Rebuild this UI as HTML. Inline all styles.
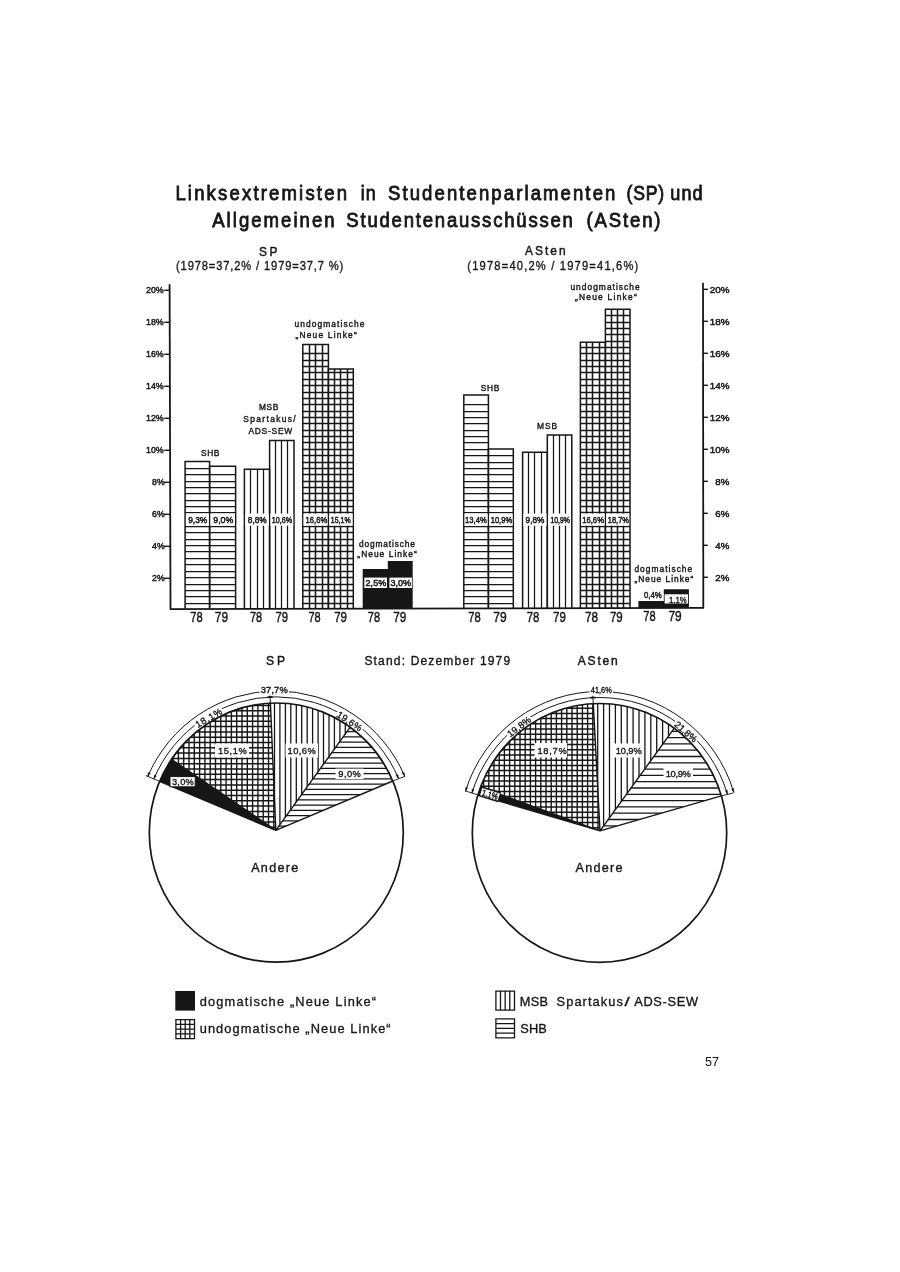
<!DOCTYPE html>
<html lang="de">
<head>
<meta charset="utf-8">
<title>Linksextremisten in Studentenparlamenten (SP) und Allgemeinen Studentenausschüssen (ASten)</title>
<style>
html,body{margin:0;padding:0;background:#fff;}
body{width:900px;height:1272px;overflow:hidden;}
svg{display:block;}
text{font-family:"Liberation Sans","DejaVu Sans",sans-serif;fill:#161616;}
</style>
</head>
<body>
<svg width="900" height="1272" viewBox="0 0 900 1272">
<defs>
<clipPath id="spw0"><path d="M275.8 830.3L159.6 781.4A127.0 129.6 0 0 1 171.5 759.3Z"/></clipPath>
<clipPath id="spw1"><path d="M275.8 830.3L171.5 759.3A127.0 129.6 0 0 1 270.4 703.1Z"/></clipPath>
<clipPath id="spw2"><path d="M275.8 830.3L270.4 703.1A127.0 129.6 0 0 1 350.2 727.2Z"/></clipPath>
<clipPath id="spw3"><path d="M275.8 830.3L350.2 727.2A127.0 129.6 0 0 1 392.8 781.0Z"/></clipPath>
<clipPath id="asw0"><path d="M600.0 830.8L477.9 794.9A127.2 129.4 0 0 1 480.5 787.2Z"/></clipPath>
<clipPath id="asw1"><path d="M600.0 830.8L480.5 787.2A127.2 129.4 0 0 1 593.3 703.7Z"/></clipPath>
<clipPath id="asw2"><path d="M600.0 830.8L593.3 703.7A127.2 129.4 0 0 1 674.3 728.2Z"/></clipPath>
<clipPath id="asw3"><path d="M600.0 830.8L674.3 728.2A127.2 129.4 0 0 1 721.4 795.9Z"/></clipPath>
</defs>
<rect width="900" height="1272" fill="#fff"/>
<g class="title">
<text transform="translate(175.4 200.2) scale(0.9 1)" font-size="20.6" textLength="190.6" lengthAdjust="spacing" stroke="#161616" stroke-width="0.85">Linksextremisten</text>
<text transform="translate(360.8 200.2) scale(0.872 1)" font-size="20.6" textLength="17.2" lengthAdjust="spacing" stroke="#161616" stroke-width="0.85">in</text>
<text transform="translate(388.0 200.2) scale(0.9 1)" font-size="20.6" textLength="252.6" lengthAdjust="spacing" stroke="#161616" stroke-width="0.85">Studentenparlamenten</text>
<text transform="translate(626.5 200.2) scale(0.855 1)" font-size="20.6" textLength="44.1" lengthAdjust="spacing" stroke="#161616" stroke-width="0.85">(SP)</text>
<text transform="translate(670.3 200.2) scale(0.878 1)" font-size="20.6" textLength="36.8" lengthAdjust="spacing" stroke="#161616" stroke-width="0.85">und</text>
<text transform="translate(212.2 227.1) scale(0.9 1)" font-size="20.6" textLength="136.0" lengthAdjust="spacing" stroke="#161616" stroke-width="0.85">Allgemeinen</text>
<text transform="translate(346.3 227.1) scale(0.9 1)" font-size="20.6" textLength="251.8" lengthAdjust="spacing" stroke="#161616" stroke-width="0.85">Studentenausschüssen</text>
<text transform="translate(586.4 227.1) scale(0.9 1)" font-size="20.6" textLength="82.4" lengthAdjust="spacing" stroke="#161616" stroke-width="0.85">(ASten)</text>
</g>
<text transform="translate(258.9 255.6) scale(0.9 1)" font-size="13.3" textLength="20.7" lengthAdjust="spacing" stroke="#161616" stroke-width="0.45">SP</text>
<text transform="translate(176.0 270.0) scale(0.86 1)" font-size="13" textLength="194.5" lengthAdjust="spacing" stroke="#161616" stroke-width="0.35">(1978=37,2% / 1979=37,7 %)</text>
<text transform="translate(525.0 254.8) scale(0.9 1)" font-size="13.3" textLength="45.2" lengthAdjust="spacing" stroke="#161616" stroke-width="0.45">ASten</text>
<text transform="translate(467.3 270.0) scale(0.86 1)" font-size="13" textLength="198.8" lengthAdjust="spacing" stroke="#161616" stroke-width="0.35">(1978=40,2% / 1979=41,6%)</text>
<g class="bars" stroke="#161616" fill="none">
<path d="M169.6 284.2L170.5 609.1" stroke-width="1.8"/>
<path d="M703.0 282.8L703.3 607.9" stroke-width="1.8"/>
<line x1="169.8" y1="609.1" x2="704.0" y2="607.9" stroke-width="1.7"/>
<line x1="164.3" y1="578.3" x2="170.0" y2="578.3" stroke-width="1.4"/>
<line x1="703.0" y1="577.3" x2="707.9" y2="577.3" stroke-width="1.4"/>
<line x1="164.3" y1="546.3" x2="170.0" y2="546.3" stroke-width="1.4"/>
<line x1="703.0" y1="545.3" x2="707.9" y2="545.3" stroke-width="1.4"/>
<line x1="164.3" y1="514.3" x2="170.0" y2="514.3" stroke-width="1.4"/>
<line x1="703.0" y1="513.3" x2="707.9" y2="513.3" stroke-width="1.4"/>
<line x1="164.3" y1="482.3" x2="170.0" y2="482.3" stroke-width="1.4"/>
<line x1="703.0" y1="481.3" x2="707.9" y2="481.3" stroke-width="1.4"/>
<line x1="164.3" y1="450.3" x2="170.0" y2="450.3" stroke-width="1.4"/>
<line x1="703.0" y1="449.3" x2="707.9" y2="449.3" stroke-width="1.4"/>
<line x1="164.3" y1="418.3" x2="170.0" y2="418.3" stroke-width="1.4"/>
<line x1="703.0" y1="417.3" x2="707.9" y2="417.3" stroke-width="1.4"/>
<line x1="164.3" y1="386.3" x2="170.0" y2="386.3" stroke-width="1.4"/>
<line x1="703.0" y1="385.3" x2="707.9" y2="385.3" stroke-width="1.4"/>
<line x1="164.3" y1="354.3" x2="170.0" y2="354.3" stroke-width="1.4"/>
<line x1="703.0" y1="353.3" x2="707.9" y2="353.3" stroke-width="1.4"/>
<line x1="164.3" y1="322.3" x2="170.0" y2="322.3" stroke-width="1.4"/>
<line x1="703.0" y1="321.3" x2="707.9" y2="321.3" stroke-width="1.4"/>
<line x1="164.3" y1="290.3" x2="170.0" y2="290.3" stroke-width="1.4"/>
<line x1="703.0" y1="289.3" x2="707.9" y2="289.3" stroke-width="1.4"/>
</g>
<text x="152.0" y="581.3" font-size="8.8" textLength="12.7" lengthAdjust="spacingAndGlyphs" stroke="#161616" stroke-width="0.45">2%</text>
<text x="715.3" y="581.2" font-size="8.8" textLength="14.0" lengthAdjust="spacingAndGlyphs" stroke="#161616" stroke-width="0.45">2%</text>
<text x="152.0" y="549.3" font-size="8.8" textLength="12.7" lengthAdjust="spacingAndGlyphs" stroke="#161616" stroke-width="0.45">4%</text>
<text x="715.3" y="549.2" font-size="8.8" textLength="14.0" lengthAdjust="spacingAndGlyphs" stroke="#161616" stroke-width="0.45">4%</text>
<text x="152.0" y="517.3" font-size="8.8" textLength="12.7" lengthAdjust="spacingAndGlyphs" stroke="#161616" stroke-width="0.45">6%</text>
<text x="715.3" y="517.2" font-size="8.8" textLength="14.0" lengthAdjust="spacingAndGlyphs" stroke="#161616" stroke-width="0.45">6%</text>
<text x="152.0" y="485.3" font-size="8.8" textLength="12.7" lengthAdjust="spacingAndGlyphs" stroke="#161616" stroke-width="0.45">8%</text>
<text x="715.3" y="485.2" font-size="8.8" textLength="14.0" lengthAdjust="spacingAndGlyphs" stroke="#161616" stroke-width="0.45">8%</text>
<text x="146.0" y="453.3" font-size="8.8" textLength="17.7" lengthAdjust="spacingAndGlyphs" stroke="#161616" stroke-width="0.45">10%</text>
<text x="709.7" y="452.6" font-size="8.8" textLength="19.8" lengthAdjust="spacingAndGlyphs" stroke="#161616" stroke-width="0.45">10%</text>
<text x="146.0" y="421.3" font-size="8.8" textLength="17.7" lengthAdjust="spacingAndGlyphs" stroke="#161616" stroke-width="0.45">12%</text>
<text x="709.7" y="420.6" font-size="8.8" textLength="19.8" lengthAdjust="spacingAndGlyphs" stroke="#161616" stroke-width="0.45">12%</text>
<text x="146.0" y="389.3" font-size="8.8" textLength="17.7" lengthAdjust="spacingAndGlyphs" stroke="#161616" stroke-width="0.45">14%</text>
<text x="709.7" y="388.6" font-size="8.8" textLength="19.8" lengthAdjust="spacingAndGlyphs" stroke="#161616" stroke-width="0.45">14%</text>
<text x="146.0" y="357.3" font-size="8.8" textLength="17.7" lengthAdjust="spacingAndGlyphs" stroke="#161616" stroke-width="0.45">16%</text>
<text x="709.7" y="356.6" font-size="8.8" textLength="19.8" lengthAdjust="spacingAndGlyphs" stroke="#161616" stroke-width="0.45">16%</text>
<text x="146.0" y="325.3" font-size="8.8" textLength="17.7" lengthAdjust="spacingAndGlyphs" stroke="#161616" stroke-width="0.45">18%</text>
<text x="709.7" y="324.6" font-size="8.8" textLength="19.8" lengthAdjust="spacingAndGlyphs" stroke="#161616" stroke-width="0.45">18%</text>
<text x="146.0" y="293.3" font-size="8.8" textLength="17.7" lengthAdjust="spacingAndGlyphs" stroke="#161616" stroke-width="0.45">20%</text>
<text x="709.7" y="292.6" font-size="8.8" textLength="19.8" lengthAdjust="spacingAndGlyphs" stroke="#161616" stroke-width="0.45">20%</text>
<g class="barfill" stroke="#161616" fill="none" stroke-width="1.25">
<path d="M185.1 603.5H209.6M185.1 596.5H209.6M185.1 590.5H209.6M185.1 584.5H209.6M185.1 577.5H209.6M185.1 571.5H209.6M185.1 564.5H209.6M185.1 558.5H209.6M185.1 551.5H209.6M185.1 545.5H209.6M185.1 539.5H209.6M185.1 532.5H209.6M185.1 526.5H209.6M185.1 512.5H209.6M185.1 506.5H209.6M185.1 500.5H209.6M185.1 493.5H209.6M185.1 487.5H209.6M185.1 481.5H209.6M185.1 474.5H209.6M185.1 468.5H209.6"/>
<path d="M209.6 603.5H235.6M209.6 596.5H235.6M209.6 590.5H235.6M209.6 584.5H235.6M209.6 577.5H235.6M209.6 571.5H235.6M209.6 564.5H235.6M209.6 558.5H235.6M209.6 551.5H235.6M209.6 545.5H235.6M209.6 539.5H235.6M209.6 532.5H235.6M209.6 526.5H235.6M209.6 512.5H235.6M209.6 506.5H235.6M209.6 500.5H235.6M209.6 493.5H235.6M209.6 487.5H235.6M209.6 481.5H235.6M209.6 474.5H235.6"/>
<path d="M250.5 469.3V608.6M257.5 469.3V608.6M263.5 469.3V608.6"/>
<path d="M275.5 440.5V608.6M281.5 440.5V608.6M287.5 440.5V608.6"/>
<path d="M302.8 603.5H328.4M302.8 596.5H328.4M302.8 590.5H328.4M302.8 584.5H328.4M302.8 577.5H328.4M302.8 571.5H328.4M302.8 564.5H328.4M302.8 558.5H328.4M302.8 551.5H328.4M302.8 545.5H328.4M302.8 539.5H328.4M302.8 532.5H328.4M302.8 526.5H328.4M302.8 512.5H328.4M302.8 506.5H328.4M302.8 500.5H328.4M302.8 493.5H328.4M302.8 487.5H328.4M302.8 481.5H328.4M302.8 474.5H328.4M302.8 468.5H328.4M302.8 462.5H328.4M302.8 455.5H328.4M302.8 449.5H328.4M302.8 442.5H328.4M302.8 436.5H328.4M302.8 430.5H328.4M302.8 423.5H328.4M302.8 417.5H328.4M302.8 411.5H328.4M302.8 404.5H328.4M302.8 398.5H328.4M302.8 392.5H328.4M302.8 385.5H328.4M302.8 379.5H328.4M302.8 372.5H328.4M302.8 366.5H328.4M302.8 360.5H328.4M302.8 353.5H328.4M309.5 344.4V608.6M315.5 344.4V608.6M322.5 344.4V608.6" stroke-width="1.55"/>
<path d="M328.4 603.5H353.3M328.4 596.5H353.3M328.4 590.5H353.3M328.4 584.5H353.3M328.4 577.5H353.3M328.4 571.5H353.3M328.4 564.5H353.3M328.4 558.5H353.3M328.4 551.5H353.3M328.4 545.5H353.3M328.4 539.5H353.3M328.4 532.5H353.3M328.4 526.5H353.3M328.4 512.5H353.3M328.4 506.5H353.3M328.4 500.5H353.3M328.4 493.5H353.3M328.4 487.5H353.3M328.4 481.5H353.3M328.4 474.5H353.3M328.4 468.5H353.3M328.4 462.5H353.3M328.4 455.5H353.3M328.4 449.5H353.3M328.4 442.5H353.3M328.4 436.5H353.3M328.4 430.5H353.3M328.4 423.5H353.3M328.4 417.5H353.3M328.4 411.5H353.3M328.4 404.5H353.3M328.4 398.5H353.3M328.4 392.5H353.3M328.4 385.5H353.3M328.4 379.5H353.3M328.4 372.5H353.3M334.5 368.9V608.6M340.5 368.9V608.6M347.5 368.9V608.6" stroke-width="1.55"/>
<path d="M362.7 608.7V568.9H387.8V561.1H412.7V608.6Z" fill="#161616" stroke="none"/>
<path d="M463.8 603.5H488.4M463.8 596.5H488.4M463.8 590.5H488.4M463.8 584.5H488.4M463.8 577.5H488.4M463.8 571.5H488.4M463.8 564.5H488.4M463.8 558.5H488.4M463.8 551.5H488.4M463.8 545.5H488.4M463.8 539.5H488.4M463.8 532.5H488.4M463.8 526.5H488.4M463.8 512.5H488.4M463.8 506.5H488.4M463.8 500.5H488.4M463.8 493.5H488.4M463.8 487.5H488.4M463.8 481.5H488.4M463.8 474.5H488.4M463.8 468.5H488.4M463.8 462.5H488.4M463.8 455.5H488.4M463.8 449.5H488.4M463.8 442.5H488.4M463.8 436.5H488.4M463.8 430.5H488.4M463.8 423.5H488.4M463.8 417.5H488.4M463.8 411.5H488.4M463.8 404.5H488.4"/>
<path d="M488.4 603.5H513.3M488.4 596.5H513.3M488.4 590.5H513.3M488.4 584.5H513.3M488.4 577.5H513.3M488.4 571.5H513.3M488.4 564.5H513.3M488.4 558.5H513.3M488.4 551.5H513.3M488.4 545.5H513.3M488.4 539.5H513.3M488.4 532.5H513.3M488.4 526.5H513.3M488.4 512.5H513.3M488.4 506.5H513.3M488.4 500.5H513.3M488.4 493.5H513.3M488.4 487.5H513.3M488.4 481.5H513.3M488.4 474.5H513.3M488.4 468.5H513.3M488.4 462.5H513.3M488.4 455.5H513.3"/>
<path d="M528.5 452.2V608.6M534.5 452.2V608.6M541.5 452.2V608.6"/>
<path d="M553.5 434.9V608.6M559.5 434.9V608.6M565.5 434.9V608.6"/>
<path d="M580.4 603.5H605.4M580.4 596.5H605.4M580.4 590.5H605.4M580.4 584.5H605.4M580.4 577.5H605.4M580.4 571.5H605.4M580.4 564.5H605.4M580.4 558.5H605.4M580.4 551.5H605.4M580.4 545.5H605.4M580.4 539.5H605.4M580.4 532.5H605.4M580.4 526.5H605.4M580.4 512.5H605.4M580.4 506.5H605.4M580.4 500.5H605.4M580.4 493.5H605.4M580.4 487.5H605.4M580.4 481.5H605.4M580.4 474.5H605.4M580.4 468.5H605.4M580.4 462.5H605.4M580.4 455.5H605.4M580.4 449.5H605.4M580.4 442.5H605.4M580.4 436.5H605.4M580.4 430.5H605.4M580.4 423.5H605.4M580.4 417.5H605.4M580.4 411.5H605.4M580.4 404.5H605.4M580.4 398.5H605.4M580.4 392.5H605.4M580.4 385.5H605.4M580.4 379.5H605.4M580.4 372.5H605.4M580.4 366.5H605.4M580.4 360.5H605.4M580.4 353.5H605.4M580.4 347.5H605.4M586.5 342.2V608.6M592.5 342.2V608.6M599.5 342.2V608.6" stroke-width="1.55"/>
<path d="M605.4 603.5H630.0M605.4 596.5H630.0M605.4 590.5H630.0M605.4 584.5H630.0M605.4 577.5H630.0M605.4 571.5H630.0M605.4 564.5H630.0M605.4 558.5H630.0M605.4 551.5H630.0M605.4 545.5H630.0M605.4 539.5H630.0M605.4 532.5H630.0M605.4 526.5H630.0M605.4 512.5H630.0M605.4 506.5H630.0M605.4 500.5H630.0M605.4 493.5H630.0M605.4 487.5H630.0M605.4 481.5H630.0M605.4 474.5H630.0M605.4 468.5H630.0M605.4 462.5H630.0M605.4 455.5H630.0M605.4 449.5H630.0M605.4 442.5H630.0M605.4 436.5H630.0M605.4 430.5H630.0M605.4 423.5H630.0M605.4 417.5H630.0M605.4 411.5H630.0M605.4 404.5H630.0M605.4 398.5H630.0M605.4 392.5H630.0M605.4 385.5H630.0M605.4 379.5H630.0M605.4 372.5H630.0M605.4 366.5H630.0M605.4 360.5H630.0M605.4 353.5H630.0M605.4 347.5H630.0M605.4 341.5H630.0M605.4 334.5H630.0M605.4 328.5H630.0M605.4 322.5H630.0M605.4 315.5H630.0M611.5 309.3V608.6M617.5 309.3V608.6M623.5 309.3V608.6" stroke-width="1.55"/>
<path d="M638.4 608.0V601.1H663.8V589.3H688.9V607.9Z" fill="#161616" stroke="none"/>
</g>
<g class="baroutline" stroke="#161616" fill="none" stroke-width="1.5">
<path d="M185.1 608.6V461.6H209.6V608.6"/>
<path d="M209.6 608.6V466.2H235.6V608.6"/>
<path d="M244.4 608.6V469.3H269.6V608.6"/>
<path d="M269.6 608.6V440.5H294.0V608.6"/>
<path d="M302.8 608.6V344.4H328.4V608.6"/>
<path d="M328.4 608.6V368.9H353.3V608.6"/>
<path d="M463.8 608.6V395.1H488.4V608.6"/>
<path d="M488.4 608.6V448.9H513.3V608.6"/>
<path d="M522.6 608.6V452.2H547.3V608.6"/>
<path d="M547.3 608.6V434.9H571.8V608.6"/>
<path d="M580.4 608.6V342.2H605.4V608.6"/>
<path d="M605.4 608.6V309.3H630.0V608.6"/>
</g>
<rect x="185.9" y="513.6" width="22.9" height="12.1" fill="#fff"/>
<text x="188.2" y="523.1" font-size="9.4" textLength="19.1" lengthAdjust="spacingAndGlyphs" stroke="#161616" stroke-width="0.5">9,3%</text>
<rect x="210.4" y="513.6" width="24.4" height="12.1" fill="#fff"/>
<text x="213.3" y="523.1" font-size="9.4" textLength="20.0" lengthAdjust="spacingAndGlyphs" stroke="#161616" stroke-width="0.5">9,0%</text>
<rect x="245.2" y="513.6" width="23.6" height="12.1" fill="#fff"/>
<text x="247.8" y="523.1" font-size="9.4" textLength="18.9" lengthAdjust="spacingAndGlyphs" stroke="#161616" stroke-width="0.5">8,8%</text>
<rect x="270.4" y="513.6" width="22.8" height="12.1" fill="#fff"/>
<text x="271.8" y="523.1" font-size="9.4" textLength="20.4" lengthAdjust="spacingAndGlyphs" stroke="#161616" stroke-width="0.5">10,6%</text>
<rect x="303.6" y="513.6" width="24.0" height="12.1" fill="#fff"/>
<text x="305.6" y="523.1" font-size="9.4" textLength="21.6" lengthAdjust="spacingAndGlyphs" stroke="#161616" stroke-width="0.5">16,6%</text>
<rect x="329.2" y="513.6" width="23.3" height="12.1" fill="#fff"/>
<text x="330.8" y="523.1" font-size="9.4" textLength="19.8" lengthAdjust="spacingAndGlyphs" stroke="#161616" stroke-width="0.5">15,1%</text>
<rect x="364.3" y="577.6" width="22.7" height="10.4" fill="#fff"/>
<text x="365.6" y="586.2" font-size="9.4" textLength="20.6" lengthAdjust="spacingAndGlyphs" stroke="#161616" stroke-width="0.5">2,5%</text>
<rect x="389.4" y="577.6" width="22.5" height="10.4" fill="#fff"/>
<text x="390.4" y="586.2" font-size="9.4" textLength="20.7" lengthAdjust="spacingAndGlyphs" stroke="#161616" stroke-width="0.5">3,0%</text>
<rect x="464.6" y="513.6" width="23.0" height="12.1" fill="#fff"/>
<text x="465.1" y="523.1" font-size="9.4" textLength="21.6" lengthAdjust="spacingAndGlyphs" stroke="#161616" stroke-width="0.5">13,4%</text>
<rect x="489.2" y="513.6" width="23.3" height="12.1" fill="#fff"/>
<text x="490.7" y="523.1" font-size="9.4" textLength="21.5" lengthAdjust="spacingAndGlyphs" stroke="#161616" stroke-width="0.5">10,9%</text>
<rect x="523.4" y="513.6" width="23.1" height="12.1" fill="#fff"/>
<text x="525.6" y="523.1" font-size="9.4" textLength="18.8" lengthAdjust="spacingAndGlyphs" stroke="#161616" stroke-width="0.5">9,8%</text>
<rect x="548.1" y="513.6" width="22.9" height="12.1" fill="#fff"/>
<text x="550.4" y="523.1" font-size="9.4" textLength="19.6" lengthAdjust="spacingAndGlyphs" stroke="#161616" stroke-width="0.5">10,9%</text>
<rect x="581.2" y="513.6" width="23.4" height="12.1" fill="#fff"/>
<text x="582.2" y="523.1" font-size="9.4" textLength="21.8" lengthAdjust="spacingAndGlyphs" stroke="#161616" stroke-width="0.5">16,6%</text>
<rect x="606.2" y="513.6" width="23.0" height="12.1" fill="#fff"/>
<text x="607.8" y="523.1" font-size="9.4" textLength="21.1" lengthAdjust="spacingAndGlyphs" stroke="#161616" stroke-width="0.5">18,7%</text>
<text x="644.0" y="598.3" font-size="9.0" textLength="17.8" lengthAdjust="spacingAndGlyphs" stroke="#161616" stroke-width="0.45">0,4%</text>
<rect x="664.6" y="594.3" width="23.4" height="9.2" fill="#fff"/>
<text x="668.9" y="602.6" font-size="9.2" textLength="17.8" lengthAdjust="spacingAndGlyphs" stroke="#161616" stroke-width="0.35">1,1%</text>
<text x="190.2" y="622.4" font-size="14.0" textLength="12.4" lengthAdjust="spacingAndGlyphs" stroke="#161616" stroke-width="0.42">78</text>
<text x="214.8" y="622.3" font-size="14.0" textLength="13.2" lengthAdjust="spacingAndGlyphs" stroke="#161616" stroke-width="0.42">79</text>
<text x="250.0" y="622.3" font-size="14.0" textLength="12.2" lengthAdjust="spacingAndGlyphs" stroke="#161616" stroke-width="0.42">78</text>
<text x="275.4" y="622.2" font-size="14.0" textLength="12.6" lengthAdjust="spacingAndGlyphs" stroke="#161616" stroke-width="0.42">79</text>
<text x="308.4" y="622.1" font-size="14.0" textLength="12.2" lengthAdjust="spacingAndGlyphs" stroke="#161616" stroke-width="0.42">78</text>
<text x="334.2" y="622.1" font-size="14.0" textLength="12.7" lengthAdjust="spacingAndGlyphs" stroke="#161616" stroke-width="0.42">79</text>
<text x="367.8" y="622.0" font-size="14.0" textLength="12.2" lengthAdjust="spacingAndGlyphs" stroke="#161616" stroke-width="0.42">78</text>
<text x="393.2" y="622.0" font-size="14.0" textLength="13.0" lengthAdjust="spacingAndGlyphs" stroke="#161616" stroke-width="0.42">79</text>
<text x="468.2" y="621.8" font-size="14.0" textLength="12.5" lengthAdjust="spacingAndGlyphs" stroke="#161616" stroke-width="0.42">78</text>
<text x="493.3" y="621.7" font-size="14.0" textLength="13.4" lengthAdjust="spacingAndGlyphs" stroke="#161616" stroke-width="0.42">79</text>
<text x="526.7" y="621.7" font-size="14.0" textLength="12.6" lengthAdjust="spacingAndGlyphs" stroke="#161616" stroke-width="0.42">78</text>
<text x="553.0" y="621.6" font-size="14.0" textLength="12.8" lengthAdjust="spacingAndGlyphs" stroke="#161616" stroke-width="0.42">79</text>
<text x="584.9" y="621.5" font-size="14.0" textLength="13.1" lengthAdjust="spacingAndGlyphs" stroke="#161616" stroke-width="0.42">78</text>
<text x="609.9" y="621.5" font-size="14.0" textLength="12.8" lengthAdjust="spacingAndGlyphs" stroke="#161616" stroke-width="0.42">79</text>
<text x="643.3" y="621.4" font-size="14.0" textLength="12.3" lengthAdjust="spacingAndGlyphs" stroke="#161616" stroke-width="0.42">78</text>
<text x="668.4" y="621.3" font-size="14.0" textLength="13.2" lengthAdjust="spacingAndGlyphs" stroke="#161616" stroke-width="0.42">79</text>
<text x="201.1" y="456.0" font-size="8.4" textLength="18.2" lengthAdjust="spacing" stroke="#161616" stroke-width="0.38">SHB</text>
<text x="258.9" y="409.6" font-size="8.4" textLength="19.5" lengthAdjust="spacing" stroke="#161616" stroke-width="0.38">MSB</text>
<text x="243.3" y="422.2" font-size="8.4" textLength="52.3" lengthAdjust="spacing" stroke="#161616" stroke-width="0.38">Spartakus/</text>
<text x="248.4" y="434.0" font-size="8.4" textLength="43.8" lengthAdjust="spacing" stroke="#161616" stroke-width="0.38">ADS-SEW</text>
<text x="294.4" y="326.7" font-size="8.4" textLength="70.0" lengthAdjust="spacing" stroke="#161616" stroke-width="0.38">undogmatische</text>
<text x="295.5" y="338.2" font-size="8.4" textLength="61.2" lengthAdjust="spacing" stroke="#161616" stroke-width="0.38">„Neue Linke“</text>
<text x="358.9" y="546.7" font-size="8.4" textLength="56.0" lengthAdjust="spacing" stroke="#161616" stroke-width="0.38">dogmatische</text>
<text x="357.3" y="556.7" font-size="8.4" textLength="59.4" lengthAdjust="spacing" stroke="#161616" stroke-width="0.38">„Neue Linke“</text>
<text x="480.7" y="390.7" font-size="8.4" textLength="18.6" lengthAdjust="spacing" stroke="#161616" stroke-width="0.38">SHB</text>
<text x="537.1" y="428.9" font-size="8.4" textLength="20.0" lengthAdjust="spacing" stroke="#161616" stroke-width="0.38">MSB</text>
<text x="570.4" y="290.4" font-size="8.4" textLength="69.2" lengthAdjust="spacing" stroke="#161616" stroke-width="0.38">undogmatische</text>
<text x="574.9" y="300.4" font-size="8.4" textLength="61.8" lengthAdjust="spacing" stroke="#161616" stroke-width="0.38">„Neue Linke“</text>
<text x="634.4" y="572.2" font-size="8.4" textLength="57.8" lengthAdjust="spacing" stroke="#161616" stroke-width="0.38">dogmatische</text>
<text x="634.4" y="582.2" font-size="8.4" textLength="58.9" lengthAdjust="spacing" stroke="#161616" stroke-width="0.38">„Neue Linke“</text>
<text transform="translate(266.0 665.0) scale(0.9 1)" font-size="13.4" textLength="21.1" lengthAdjust="spacing" stroke="#161616" stroke-width="0.45">SP</text>
<text transform="translate(364.4 665.0) scale(0.9 1)" font-size="13.4" textLength="162.0" lengthAdjust="spacing" stroke="#161616" stroke-width="0.36">Stand: Dezember 1979</text>
<text transform="translate(577.8 665.0) scale(0.9 1)" font-size="13.4" textLength="44.4" lengthAdjust="spacing" stroke="#161616" stroke-width="0.45">ASten</text>
<g class="pie" stroke="#161616" fill="none">
<path d="M275.8 830.3L159.6 781.4A127.0 129.6 0 0 1 171.5 759.3Z" fill="#161616" stroke="none"/>
<path d="M273.8 701.0V832.3M268.5 701.0V832.3M263.2 701.0V832.3M257.9 701.0V832.3M252.6 701.0V832.3M247.3 701.0V832.3M242.0 701.0V832.3M236.7 701.0V832.3M231.4 701.0V832.3M226.1 701.0V832.3M220.8 701.0V832.3M215.5 701.0V832.3M210.2 701.0V832.3M204.9 701.0V832.3M199.6 701.0V832.3M194.3 701.0V832.3M189.0 701.0V832.3M183.7 701.0V832.3M178.4 701.0V832.3M173.1 701.0V832.3M167.8 701.0V832.3M162.5 701.0V832.3M157.2 701.0V832.3M151.9 701.0V832.3" stroke-width="1.4" clip-path="url(#spw1)"/>
<path d="M147.3 827.3H405.3M147.3 822.0H405.3M147.3 816.7H405.3M147.3 811.4H405.3M147.3 806.1H405.3M147.3 800.8H405.3M147.3 795.5H405.3M147.3 790.2H405.3M147.3 784.9H405.3M147.3 779.6H405.3M147.3 774.3H405.3M147.3 769.0H405.3M147.3 763.7H405.3M147.3 758.4H405.3M147.3 753.1H405.3M147.3 747.8H405.3M147.3 742.5H405.3M147.3 737.2H405.3M147.3 731.9H405.3M147.3 726.6H405.3M147.3 721.3H405.3M147.3 716.0H405.3M147.3 710.7H405.3M147.3 705.4H405.3" stroke-width="1.5" clip-path="url(#spw1)"/>
<path d="M274.5 701.0V832.3M279.9 701.0V832.3M285.4 701.0V832.3M290.8 701.0V832.3M296.3 701.0V832.3M301.7 701.0V832.3M307.2 701.0V832.3M312.6 701.0V832.3M318.1 701.0V832.3M323.5 701.0V832.3M329.0 701.0V832.3M334.4 701.0V832.3M339.9 701.0V832.3M345.3 701.0V832.3M350.8 701.0V832.3M356.2 701.0V832.3M361.7 701.0V832.3M367.1 701.0V832.3M372.6 701.0V832.3M378.0 701.0V832.3M383.5 701.0V832.3M388.9 701.0V832.3M394.4 701.0V832.3M399.8 701.0V832.3M405.3 701.0V832.3" stroke-width="1.3" clip-path="url(#spw2)"/>
<path d="M147.3 826.1H405.3M147.3 820.8H405.3M147.3 815.6H405.3M147.3 810.3H405.3M147.3 805.1H405.3M147.3 799.8H405.3M147.3 794.6H405.3M147.3 789.3H405.3M147.3 784.1H405.3M147.3 778.8H405.3M147.3 773.6H405.3M147.3 768.3H405.3M147.3 763.1H405.3M147.3 757.8H405.3M147.3 752.6H405.3M147.3 747.3H405.3M147.3 742.1H405.3M147.3 736.8H405.3M147.3 731.6H405.3M147.3 726.3H405.3M147.3 721.1H405.3M147.3 715.8H405.3M147.3 710.6H405.3M147.3 705.3H405.3" stroke-width="1.3" clip-path="url(#spw3)"/>
<ellipse cx="276.3" cy="832.6" rx="127.0" ry="129.6" stroke-width="1.7"/>
<path d="M275.8 830.3L159.6 781.4M275.8 830.3L171.5 759.3M275.8 830.3L270.4 703.1M275.8 830.3L350.2 727.2M275.8 830.3L392.8 781.0" stroke-width="1.4" stroke-linejoin="round" stroke-linecap="round"/>
<path d="M159.6 781.4L145.8 775.5M392.8 781.0L405.0 776.3" stroke-width="0.9"/>
<line x1="270.4" y1="703.1" x2="269.9" y2="695.1" stroke-width="1.0"/>
<line x1="267.5" y1="697.1" x2="272.7" y2="696.9" stroke-width="1.7"/>
<path d="M153.8 779.0A133.3 135.7 0 0 1 398.6 778.6" stroke-width="1.0"/>
<path d="M147.7 776.6A140.0 141.7 0 0 1 404.7 776.2" stroke-width="1.0"/>
<path d="M153.8 779.0L154.5 775.1L156.3 775.9Z" fill="#161616" stroke-width="0.5"/>
<path d="M398.6 778.6L398.0 774.7L396.1 775.5Z" fill="#161616" stroke-width="0.5"/>
<path d="M147.7 776.6L148.4 772.6L150.2 773.4Z" fill="#161616" stroke-width="0.5"/>
<path d="M404.7 776.2L404.0 772.2L402.2 773.0Z" fill="#161616" stroke-width="0.5"/>
</g>
<rect x="215.0" y="743.5" width="34.0" height="14.0" fill="#fff"/>
<text x="218.0" y="754.2" font-size="9.3" textLength="28.7" lengthAdjust="spacing" stroke="#161616" stroke-width="0.35">15,1%</text>
<rect x="285.5" y="743.5" width="32.5" height="14.0" fill="#fff"/>
<text x="287.5" y="754.4" font-size="9.3" textLength="28.3" lengthAdjust="spacing" stroke="#161616" stroke-width="0.35">10,6%</text>
<rect x="335.5" y="768.6" width="28.0" height="10.4" fill="#fff"/>
<text x="338.3" y="777.0" font-size="9.3" textLength="22.5" lengthAdjust="spacing" stroke="#161616" stroke-width="0.35">9,0%</text>
<rect x="170.0" y="776.6" width="25.2" height="10.2" fill="#fff" stroke="#161616" stroke-width="1"/>
<text x="172.0" y="785.2" font-size="9.3" textLength="21.8" lengthAdjust="spacing" stroke="#161616" stroke-width="0.35">3,0%</text>
<g transform="translate(208.7 717.9) rotate(-30.5)">
<rect x="-16.0" y="-3.4" width="32.0" height="6.8" fill="#fff"/>
<text x="-14.5" y="3.2" font-size="9.3" textLength="29.0" lengthAdjust="spacing" stroke="#161616" stroke-width="0.35">18,1%</text>
</g>
<g transform="translate(349.5 721.2) rotate(33.3)">
<rect x="-15.5" y="-3.4" width="31.0" height="6.8" fill="#fff"/>
<text x="-14.0" y="3.2" font-size="9.3" textLength="28.0" lengthAdjust="spacing" stroke="#161616" stroke-width="0.35">19,6%</text>
</g>
<rect x="259.5" y="686.0" width="29.5" height="9.5" fill="#fff"/>
<text x="260.8" y="693.3" font-size="9.3" textLength="26.9" lengthAdjust="spacing" stroke="#161616" stroke-width="0.4">37,7%</text>
<text transform="translate(251.2 871.8) scale(0.94 1)" font-size="13.4" textLength="50.0" lengthAdjust="spacing" stroke="#161616" stroke-width="0.38">Andere</text>
<g class="pie" stroke="#161616" fill="none">
<path d="M600.0 830.8L477.9 794.9A127.2 129.4 0 0 1 480.5 787.2Z" fill="#161616" stroke="none"/>
<path d="M598.0 701.5V832.8M592.8 701.5V832.8M587.6 701.5V832.8M582.4 701.5V832.8M577.2 701.5V832.8M572.0 701.5V832.8M566.8 701.5V832.8M561.6 701.5V832.8M556.4 701.5V832.8M551.2 701.5V832.8M546.0 701.5V832.8M540.8 701.5V832.8M535.6 701.5V832.8M530.4 701.5V832.8M525.2 701.5V832.8M520.0 701.5V832.8M514.8 701.5V832.8M509.6 701.5V832.8M504.4 701.5V832.8M499.2 701.5V832.8M494.0 701.5V832.8M488.8 701.5V832.8M483.6 701.5V832.8M478.4 701.5V832.8M473.2 701.5V832.8" stroke-width="1.4" clip-path="url(#asw1)"/>
<path d="M470.3 827.8H728.7M470.3 822.6H728.7M470.3 817.4H728.7M470.3 812.2H728.7M470.3 807.0H728.7M470.3 801.8H728.7M470.3 796.6H728.7M470.3 791.4H728.7M470.3 786.2H728.7M470.3 781.0H728.7M470.3 775.8H728.7M470.3 770.6H728.7M470.3 765.4H728.7M470.3 760.2H728.7M470.3 755.0H728.7M470.3 749.8H728.7M470.3 744.6H728.7M470.3 739.4H728.7M470.3 734.2H728.7M470.3 729.0H728.7M470.3 723.8H728.7M470.3 718.6H728.7M470.3 713.4H728.7M470.3 708.2H728.7M470.3 703.0H728.7" stroke-width="1.5" clip-path="url(#asw1)"/>
<path d="M597.7 701.5V832.8M603.6 701.5V832.8M609.5 701.5V832.8M615.4 701.5V832.8M621.3 701.5V832.8M627.2 701.5V832.8M633.1 701.5V832.8M639.0 701.5V832.8M644.9 701.5V832.8M650.8 701.5V832.8M656.7 701.5V832.8M662.6 701.5V832.8M668.5 701.5V832.8M674.4 701.5V832.8M680.3 701.5V832.8M686.2 701.5V832.8M692.1 701.5V832.8M698.0 701.5V832.8M703.9 701.5V832.8M709.8 701.5V832.8M715.7 701.5V832.8M721.6 701.5V832.8M727.5 701.5V832.8" stroke-width="1.3" clip-path="url(#asw2)"/>
<path d="M470.3 825.8H728.7M470.3 819.5H728.7M470.3 813.2H728.7M470.3 806.9H728.7M470.3 800.6H728.7M470.3 794.3H728.7M470.3 788.0H728.7M470.3 781.7H728.7M470.3 775.4H728.7M470.3 769.1H728.7M470.3 762.8H728.7M470.3 756.5H728.7M470.3 750.2H728.7M470.3 743.9H728.7M470.3 737.6H728.7M470.3 731.3H728.7M470.3 725.0H728.7M470.3 718.7H728.7M470.3 712.4H728.7M470.3 706.1H728.7" stroke-width="1.3" clip-path="url(#asw3)"/>
<ellipse cx="599.5" cy="832.9" rx="127.2" ry="129.4" stroke-width="1.7"/>
<path d="M600.0 830.8L477.9 794.9M600.0 830.8L480.5 787.2M600.0 830.8L593.3 703.7M600.0 830.8L674.3 728.2M600.0 830.8L721.4 795.9" stroke-width="1.4" stroke-linejoin="round" stroke-linecap="round"/>
<path d="M477.9 794.9L465.0 790.8M721.4 795.9L733.3 793.0" stroke-width="0.9"/>
<line x1="593.3" y1="703.7" x2="592.8" y2="695.7" stroke-width="1.0"/>
<line x1="590.4" y1="697.7" x2="595.6" y2="697.5" stroke-width="1.7"/>
<path d="M471.9 793.1A133.5 135.5 0 0 1 727.4 794.2" stroke-width="1.0"/>
<path d="M465.5 791.3A140.2 141.5 0 0 1 733.8 792.4" stroke-width="1.0"/>
<path d="M471.9 793.1L472.1 789.1L474.0 789.8Z" fill="#161616" stroke-width="0.5"/>
<path d="M727.4 794.2L727.3 790.2L725.4 790.8Z" fill="#161616" stroke-width="0.5"/>
<path d="M465.5 791.3L465.8 787.2L467.6 787.9Z" fill="#161616" stroke-width="0.5"/>
<path d="M733.8 792.4L733.6 788.3L731.7 789.0Z" fill="#161616" stroke-width="0.5"/>
</g>
<rect x="534.5" y="743.0" width="32.5" height="14.5" fill="#fff"/>
<text x="537.5" y="754.2" font-size="9.3" textLength="29.2" lengthAdjust="spacing" stroke="#161616" stroke-width="0.35">18,7%</text>
<rect x="613.5" y="743.5" width="30.5" height="14.0" fill="#fff"/>
<text x="615.8" y="754.2" font-size="9.3" textLength="25.9" lengthAdjust="spacing" stroke="#161616" stroke-width="0.35">10,9%</text>
<rect x="663.5" y="767.5" width="29.5" height="12.0" fill="#fff"/>
<text x="665.8" y="776.7" font-size="9.3" textLength="25.0" lengthAdjust="spacing" stroke="#161616" stroke-width="0.35">10,9%</text>
<g transform="translate(519.2 726.7) rotate(-37.1)">
<rect x="-15.0" y="-3.4" width="30.0" height="6.8" fill="#fff"/>
<text x="-13.5" y="3.2" font-size="9.3" textLength="27.0" lengthAdjust="spacing" stroke="#161616" stroke-width="0.35">19,8%</text>
</g>
<g transform="translate(685.8 731.7) rotate(40.5)">
<rect x="-14.8" y="-3.4" width="29.5" height="6.8" fill="#fff"/>
<text x="-13.2" y="3.2" font-size="9.3" textLength="26.5" lengthAdjust="spacing" stroke="#161616" stroke-width="0.35">21,8%</text>
</g>
<rect x="589.5" y="686.0" width="23.5" height="9.0" fill="#fff"/>
<text x="590.8" y="693.2" font-size="9.3" textLength="21.0" lengthAdjust="spacingAndGlyphs" stroke="#161616" stroke-width="0.4">41,6%</text>
<g transform="translate(490.3 794.6) rotate(17)">
<rect x="-11.5" y="-5.6" width="21" height="10.6" fill="#161616"/>
<rect x="-9.6" y="-3.9" width="18.4" height="7.4" fill="#fff"/>
<text x="-8.6" y="3.2" font-size="8.8" textLength="16.6" lengthAdjust="spacingAndGlyphs" stroke="#161616" stroke-width="0.4">1,1%</text>
</g>
<text transform="translate(575.6 871.8) scale(0.94 1)" font-size="13.4" textLength="49.8" lengthAdjust="spacing" stroke="#161616" stroke-width="0.38">Andere</text>
<g class="legend" stroke="#161616" fill="none" stroke-width="1.3">
<rect x="175.3" y="991.0" width="19.7" height="19.6" fill="#161616" stroke="none"/>
<path d="M175.9 1019.6h18.6v19.0h-18.6zM180.6 1019.6v19.0M175.9 1024.3h18.6M185.2 1019.6v19.0M175.9 1029.1h18.6M189.8 1019.6v19.0M175.9 1033.8h18.6"/>
<path d="M495.9 991.2h18.6v19.0h-18.6zM500.5 991.2v19.0M505.2 991.2v19.0M509.8 991.2v19.0"/>
<path d="M495.9 1018.9h18.6v19.0h-18.6zM495.9 1023.6h18.6M495.9 1028.4h18.6M495.9 1033.2h18.6"/>
</g>
<text x="199.7" y="1005.7" font-size="12.8" textLength="176.4" lengthAdjust="spacing" stroke="#161616" stroke-width="0.32">dogmatische „Neue Linke“</text>
<text x="199.7" y="1032.7" font-size="12.8" textLength="190.9" lengthAdjust="spacing" stroke="#161616" stroke-width="0.32">undogmatische „Neue Linke“</text>
<text x="519.7" y="1005.7" font-size="12.8" textLength="28.4" lengthAdjust="spacing" stroke="#161616" stroke-width="0.32">MSB</text>
<text x="556.6" y="1005.7" font-size="12.8" textLength="66.2" lengthAdjust="spacing" stroke="#161616" stroke-width="0.32">Spartakus</text>
<text x="624.6" y="1005.7" font-size="12.8" textLength="5.2" lengthAdjust="spacingAndGlyphs" stroke="#161616" stroke-width="0.32">/</text>
<text x="634.2" y="1005.7" font-size="12.8" textLength="63.9" lengthAdjust="spacing" stroke="#161616" stroke-width="0.32">ADS-SEW</text>
<text x="520.3" y="1032.7" font-size="12.8" textLength="26.4" lengthAdjust="spacing" stroke="#161616" stroke-width="0.32">SHB</text>
<text x="705.0" y="1065.6" font-size="12.8" textLength="14.0" lengthAdjust="spacingAndGlyphs">57</text>
</svg>
</body>
</html>
